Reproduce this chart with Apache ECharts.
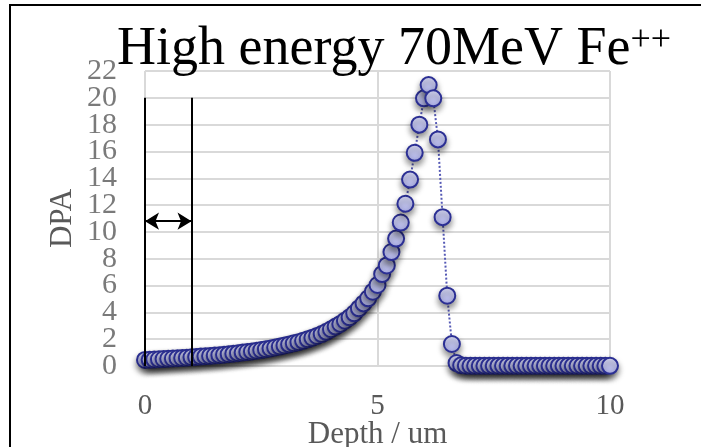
<!DOCTYPE html>
<html>
<head>
<meta charset="utf-8">
<script src="https://cdn.jsdelivr.net/npm/echarts@6/dist/echarts.min.js"></script>
<style>
  html, body { margin: 0; padding: 0; background: #fff; }
  #main { width: 701px; height: 447px; }
</style>
</head>
<body>
<div id="main"></div>
<script>
// 深度 (um)
var depth = [
  0.0, 0.1, 0.2, 0.3, 0.4, 0.5, 0.6, 0.7, 0.8, 0.9,
  1.0, 1.1, 1.2, 1.3, 1.4, 1.5, 1.6, 1.7, 1.8, 1.9,
  2.0, 2.1, 2.2, 2.3, 2.4, 2.5, 2.6, 2.7, 2.8, 2.9,
  3.0, 3.1, 3.2, 3.3, 3.4, 3.5, 3.6, 3.7, 3.8, 3.9,
  4.0, 4.1, 4.2, 4.3, 4.4, 4.5, 4.6, 4.7, 4.8, 4.9,
  5.0, 5.1, 5.2, 5.3, 5.4, 5.5, 5.6, 5.7, 5.8, 5.9,
  6.0, 6.1, 6.2, 6.3, 6.4, 6.5, 6.6, 6.7, 6.8, 6.9,
  7.0, 7.1, 7.2, 7.3, 7.4, 7.5, 7.6, 7.7, 7.8, 7.9,
  8.0, 8.1, 8.2, 8.3, 8.4, 8.5, 8.6, 8.7, 8.8, 8.9,
  9.0, 9.1, 9.2, 9.3, 9.4, 9.5, 9.6, 9.7, 9.8, 9.9,
  10.0
];
// DPA
var dpa = [
  0.45, 0.46, 0.48, 0.50, 0.52, 0.54, 0.56, 0.58, 0.60, 0.62,
  0.65, 0.67, 0.70, 0.72, 0.75, 0.78, 0.81, 0.84, 0.88, 0.92,
  0.96, 1.00, 1.04, 1.09, 1.14, 1.19, 1.25, 1.31, 1.38, 1.45,
  1.53, 1.61, 1.69, 1.78, 1.88, 1.99, 2.11, 2.24, 2.38, 2.55,
  2.74, 2.94, 3.14, 3.38, 3.63, 3.93, 4.30, 4.67, 5.05, 5.54,
  6.04, 6.86, 7.50, 8.50, 9.50, 10.70, 12.10, 13.90, 15.90, 18.00,
  19.96, 20.95, 19.96, 16.90, 11.10, 5.24, 1.64, 0.22, 0.05, 0.02,
  0.01, 0.01, 0.01, 0.01, 0.01, 0.01, 0.01, 0.01, 0.01, 0.01,
  0.01, 0.01, 0.01, 0.01, 0.01, 0.01, 0.01, 0.01, 0.01, 0.01,
  0.01, 0.01, 0.01, 0.01, 0.01, 0.01, 0.01, 0.01, 0.01, 0.01,
  0.01
];
// y轴刻度
var yTicks = [0, 2, 4, 6, 8, 10, 12, 14, 16, 18, 20, 22];
// 标注：两条竖线和双向箭头
var markerDepths = [0, 1];
var markerTop = 20;
var arrowY = 10.8;

var points = [];
for (var i = 0; i < depth.length; i++) {
  points.push([depth[i], dpa[i]]);
}

var markLines = [];
markerDepths.forEach(function (d) {
  markLines.push([{ coord: [d, 0], symbol: 'none' }, { coord: [d, markerTop], symbol: 'none' }]);
});
markLines.push([
  { coord: [markerDepths[0], arrowY], symbol: 'arrow', symbolSize: [13, 14] },
  { coord: [markerDepths[1], arrowY], symbol: 'arrow', symbolSize: [13, 14] }
]);

var serif = 'Liberation Serif';
var chart = echarts.init(document.getElementById('main'));
chart.setOption({
  animation: false,
  title: {
    text: 'High energy 70MeV Fe{sup|++}',
    left: 112,
    top: 18,
    textStyle: {
      fontFamily: serif,
      fontSize: 54,
      fontWeight: 'normal',
      color: '#000',
      rich: {
        sup: { fontFamily: serif, fontSize: 36, verticalAlign: 'top', color: '#000', padding: [0, 0, 14, 0] }
      }
    }
  },
  graphic: [{
    type: 'rect',
    shape: { x: 10, y: 5, width: 900, height: 600 },
    style: { fill: 'none', stroke: '#000', lineWidth: 2 },
    z: 100
  }],
  grid: { left: 145, right: 91, top: 71, bottom: 81, outerBoundsMode: 'none' },
  xAxis: {
    type: 'value',
    min: 0,
    max: 10,
    interval: 5,
    name: 'Depth / um',
    nameLocation: 'middle',
    nameGap: 53,
    nameMoveOverlap: false,
    nameTextStyle: { fontFamily: serif, fontSize: 31, color: '#595959' },
    axisLine: { show: false },
    axisTick: { show: false },
    axisLabel: { fontFamily: serif, fontSize: 29, color: '#595959', margin: 26, showMinLabel: true, showMaxLabel: true },
    splitLine: { show: true, lineStyle: { color: '#d9d9d9', width: 2 } }
  },
  yAxis: {
    type: 'value',
    min: 0,
    max: 22,
    interval: 2,
    name: 'DPA',
    nameLocation: 'middle',
    nameRotate: 90,
    nameGap: 67,
    nameMoveOverlap: false,
    nameTextStyle: { fontFamily: serif, fontSize: 31, color: '#595959' },
    axisLine: { show: false },
    axisTick: { show: false },
    // 刻度文字太密，轴自带的会被隐藏，改用下面的 scatter 标签
    axisLabel: { show: false },
    splitLine: { show: true, lineStyle: { color: '#d9d9d9', width: 2 } }
  },
  series: [{
    type: 'line',
    data: points,
    symbol: 'circle',
    symbolSize: 16,
    showAllSymbol: true,
    lineStyle: { color: '#5559b5', width: 2, type: 'dotted' },
    itemStyle: {
      color: new echarts.graphic.LinearGradient(0, 0, 0, 1, [
        { offset: 0, color: '#dcdef8' },
        { offset: 1, color: '#adb0ea' }
      ]),
      borderColor: '#2b2f94',
      borderWidth: 2,
      shadowColor: 'rgba(0,0,0,0.45)',
      shadowBlur: 6,
      shadowOffsetY: 4
    },
    markLine: {
      silent: true,
      label: { show: false },
      lineStyle: { color: '#000', width: 2, type: 'solid' },
      data: markLines
    }
  }, {
    // y轴刻度文字
    type: 'scatter',
    silent: true,
    clip: false,
    symbolSize: 0,
    data: yTicks.map(function (v) { return [0, v]; }),
    label: {
      show: true,
      position: 'left',
      distance: 28,
      fontFamily: serif,
      fontSize: 30,
      color: '#595959',
      formatter: function (p) { return p.value[1]; }
    },
    z: 1
  }]
});
</script>
</body>
</html>
